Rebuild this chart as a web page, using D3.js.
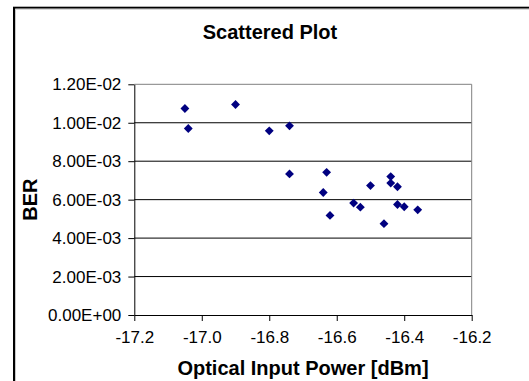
<!DOCTYPE html>
<html>
<head>
<meta charset="utf-8">
<script src="https://cdn.jsdelivr.net/npm/d3@7"></script>
<style>
  html, body { margin: 0; padding: 0; background: #fff; }
  svg { display: block; font-family: "Liberation Sans", Arial, sans-serif; }
</style>
</head>
<body>
<script>
// ---- data ----
const powerDbm = [-17.05, -17.04, -16.90, -16.80, -16.74, -16.74, -16.63, -16.64, -16.62, -16.55,
                  -16.53, -16.50, -16.46, -16.44, -16.44, -16.42, -16.42, -16.40, -16.36];
const berValues = [0.01074, 0.00970, 0.01095, 0.00958, 0.00984, 0.00734, 0.00742, 0.00637, 0.00518, 0.00582,
                   0.00561, 0.00673, 0.00475, 0.00720, 0.00686, 0.00667, 0.00575, 0.00563, 0.00547];
const xTicks = [-17.2, -17.0, -16.8, -16.6, -16.4, -16.2];
const yTicks = [0, 0.002, 0.004, 0.006, 0.008, 0.010, 0.012];
const yTickLabels = ["0.00E+00", "2.00E-03", "4.00E-03", "6.00E-03", "8.00E-03", "1.00E-02", "1.20E-02"];
const xTickLabels = ["-17.2", "-17.0", "-16.8", "-16.6", "-16.4", "-16.2"];
const chartTitle = "Scattered Plot";
const xTitle = "Optical Input Power [dBm]";
const yTitle = "BER";

const W = 529, H = 381;
const plot = { left: 134.3, right: 471.7, top: 84.3, bottom: 315 };

const svg = d3.select("body").append("svg").attr("width", W).attr("height", H);
svg.append("rect").attr("width", W).attr("height", H).attr("fill", "#fff");

// outer chart border
svg.append("rect").attr("x", 14).attr("y", 7.7).attr("width", 600).attr("height", 500)
  .attr("fill", "none").attr("stroke", "#000").attr("stroke-width", 2);
svg.append("path").attr("d", `M15.5,${H} V9.2 H${W}`)
  .attr("fill", "none").attr("stroke", "#c8c8c8").attr("stroke-width", 1);

const x = d3.scaleLinear().domain([-17.2, -16.2]).range([plot.left, plot.right]);
const y = d3.scaleLinear().domain([0, 0.012]).range([plot.bottom, plot.top]);

// gridlines
svg.append("g").selectAll("line").data(yTicks.slice(1)).join("line")
  .attr("x1", plot.left).attr("x2", plot.right)
  .attr("y1", d => y(d)).attr("y2", d => y(d))
  .attr("stroke", d => d === 0.012 ? "#808080" : "#000").attr("stroke-width", 1);

// right border of plot area
svg.append("line").attr("x1", plot.right).attr("x2", plot.right)
  .attr("y1", plot.top).attr("y2", plot.bottom).attr("stroke", "#808080").attr("stroke-width", 1);

// axes
const yAxis = d3.axisLeft(y).tickValues(yTicks).tickFormat((d, i) => yTickLabels[i])
  .tickSizeInner(6).tickSizeOuter(0).tickPadding(7);
const gy = svg.append("g").attr("transform", `translate(${plot.left},0)`).call(yAxis);
const xAxis = d3.axisBottom(x).tickValues(xTicks).tickFormat((d, i) => xTickLabels[i])
  .tickSizeInner(6).tickSizeOuter(0).tickPadding(10);
const gx = svg.append("g").attr("transform", `translate(0,${plot.bottom})`).call(xAxis);

[gx, gy].forEach(g => {
  g.select(".domain").attr("stroke", "#000");
  g.selectAll(".tick line").attr("stroke", "#000");
  g.selectAll(".tick text").attr("fill", "#000")
    .style("font-family", '"Liberation Sans", Arial, sans-serif').style("font-size", "17px");
});

// points
svg.append("g").selectAll("path").data(powerDbm.map((p, i) => [p, berValues[i]])).join("path")
  .attr("d", d3.symbol(d3.symbolDiamond2, 50))
  .attr("transform", d => `translate(${x(d[0])},${y(d[1])})`)
  .attr("fill", "#000080");

// titles
svg.append("text").attr("x", 270).attr("y", 39).attr("text-anchor", "middle")
  .style("font-weight", "bold").style("font-size", "20px").text(chartTitle);
svg.append("text").attr("x", (plot.left + plot.right) / 2).attr("y", 375).attr("text-anchor", "middle")
  .style("font-weight", "bold").style("font-size", "20px").text(xTitle);
svg.append("text").attr("transform", `translate(37,${(plot.top + plot.bottom) / 2}) rotate(-90)`)
  .attr("text-anchor", "middle")
  .style("font-weight", "bold").style("font-size", "20px").text(yTitle);
</script>
</body>
</html>
